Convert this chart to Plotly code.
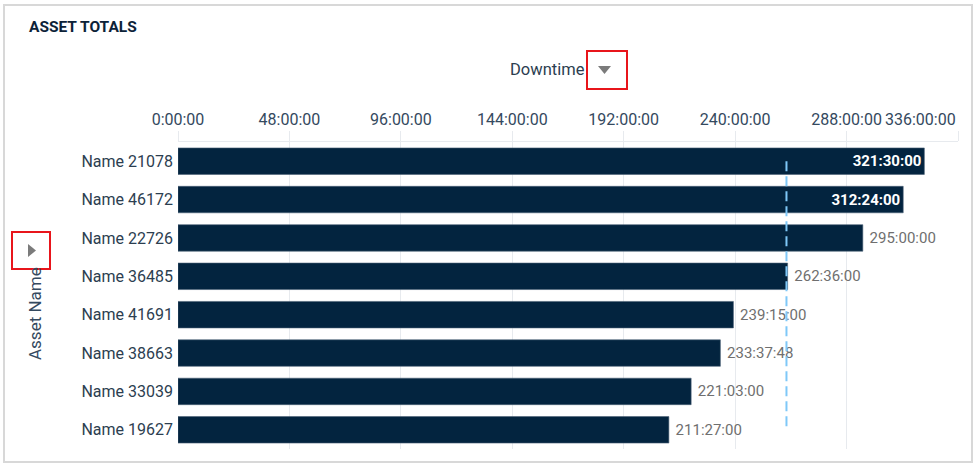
import plotly.graph_objects as go

# values
assets = ["Name 21078", "Name 46172", "Name 22726", "Name 36485",
          "Name 41691", "Name 38663", "Name 33039", "Name 19627"]
downtime = ["321:30:00", "312:24:00", "295:00:00", "262:36:00",
            "239:15:00", "233:37:48", "221:03:00", "211:27:00"]
label_inside = [True, True, False, False, False, False, False, False]
tick_hours = [0, 48, 96, 144, 192, 240, 288, 336]
tick_labels = ["0:00:00", "48:00:00", "96:00:00", "144:00:00",
               "192:00:00", "240:00:00", "288:00:00", "336:00:00"]


def to_hours(s):
    h, m, sec = (int(p) for p in s.split(":"))
    return h + m / 60 + sec / 3600


hours = [to_hours(d) for d in downtime]
avg = sum(hours) / len(hours)

# page geometry (pixels) -> paper coordinates
W, H = 975, 466
L, R, T, B = 178, 958, 142, 449


def px(x):
    return (x - L) / (R - L)


def py(y):
    return (B - y) / (B - T)


texts = [f"<b>{d}</b>" if ins else " " + d for d, ins in zip(downtime, label_inside)]
positions = ["inside" if ins else "outside" for ins in label_inside]

fig = go.Figure()
fig.add_trace(go.Bar(
    x=hours, y=assets, orientation="h",
    marker=dict(color="#03243f", line=dict(color="#4a6075", width=0.6)),
    text=texts, textposition=positions, insidetextanchor="end",
    constraintext="none", cliponaxis=False,
    insidetextfont=dict(color="white", size=15),
    outsidetextfont=dict(color="#6f6f6f", size=15),
    hoverinfo="skip", showlegend=False,
))
fig.add_trace(go.Scatter(
    x=[avg, avg], y=[assets[0], assets[-1]], mode="lines",
    line=dict(color="#7fc8f8", width=2, dash="10px,5px"),
    hoverinfo="skip", showlegend=False,
))

# last tick label sits right-aligned on its tick, so it is drawn separately
fig.update_xaxes(
    side="top", range=[0, 336], tickvals=tick_hours,
    ticktext=tick_labels[:-1] + [""],
    showgrid=True, gridcolor="#e7eaee", gridwidth=1,
    ticks="outside", ticklen=10, tickcolor="#e7eaee",
    showline=True, linecolor="#e7eaee", zeroline=False,
    tickfont=dict(size=16, color="#34495e"),
)
fig.update_yaxes(
    autorange="reversed", showgrid=False, ticks="", showline=False,
    tickfont=dict(size=16, color="#2c3e50"), ticklabelstandoff=4,
)

shapes = [
    # outer card frame
    dict(type="rect", xref="paper", yref="paper",
         x0=px(4), x1=px(972), y0=py(462), y1=py(5),
         line=dict(color="#d8d8d8", width=2), layer="below"),
    # red boxes
    dict(type="rect", xref="paper", yref="paper",
         x0=px(587), x1=px(627), y0=py(89), y1=py(51),
         line=dict(color="#e8151b", width=2)),
    dict(type="rect", xref="paper", yref="paper",
         x0=px(12), x1=px(50), y0=py(269), y1=py(232),
         line=dict(color="#e8151b", width=2)),
    # dropdown arrows
    dict(type="path", xref="paper", yref="paper",
         path=f"M {px(598)} {py(66)} L {px(611)} {py(66)} L {px(604.5)} {py(74)} Z",
         fillcolor="#7b7b7b", line=dict(width=0)),
    dict(type="path", xref="paper", yref="paper",
         path=f"M {px(28)} {py(244)} L {px(28)} {py(257)} L {px(36)} {py(250.5)} Z",
         fillcolor="#7b7b7b", line=dict(width=0)),
]

annotations = [
    dict(text="<b>ASSET TOTALS</b>", xref="paper", yref="paper",
         x=px(27), y=py(27), xanchor="left", yanchor="middle", showarrow=False,
         font=dict(size=15.5, color="#0c2238")),
    dict(text="Downtime", xref="paper", yref="paper",
         x=px(587), y=py(70), xanchor="right", yanchor="middle", showarrow=False,
         font=dict(size=16.5, color="#2c3e50")),
    dict(text="Asset Name", xref="paper", yref="paper", textangle=-90,
         x=px(35), y=py(314), xanchor="center", yanchor="middle", showarrow=False,
         font=dict(size=17, color="#34495e")),
    dict(text=tick_labels[-1], xref="x", yref="paper",
         x=tick_hours[-1], y=py(120), xanchor="right", yanchor="middle",
         showarrow=False, font=dict(size=16, color="#34495e")),
]

fig.update_layout(
    width=W, height=H,
    margin=dict(l=L, r=W - R, t=T, b=H - B, pad=0),
    paper_bgcolor="white", plot_bgcolor="white",
    bargap=0.31,
    font=dict(family="Roboto, Arial, sans-serif"),
    shapes=shapes, annotations=annotations,
)

fig.write_html("out.html", config={"displayModeBar": False},
               post_script="document.body.style.margin='0px';")
